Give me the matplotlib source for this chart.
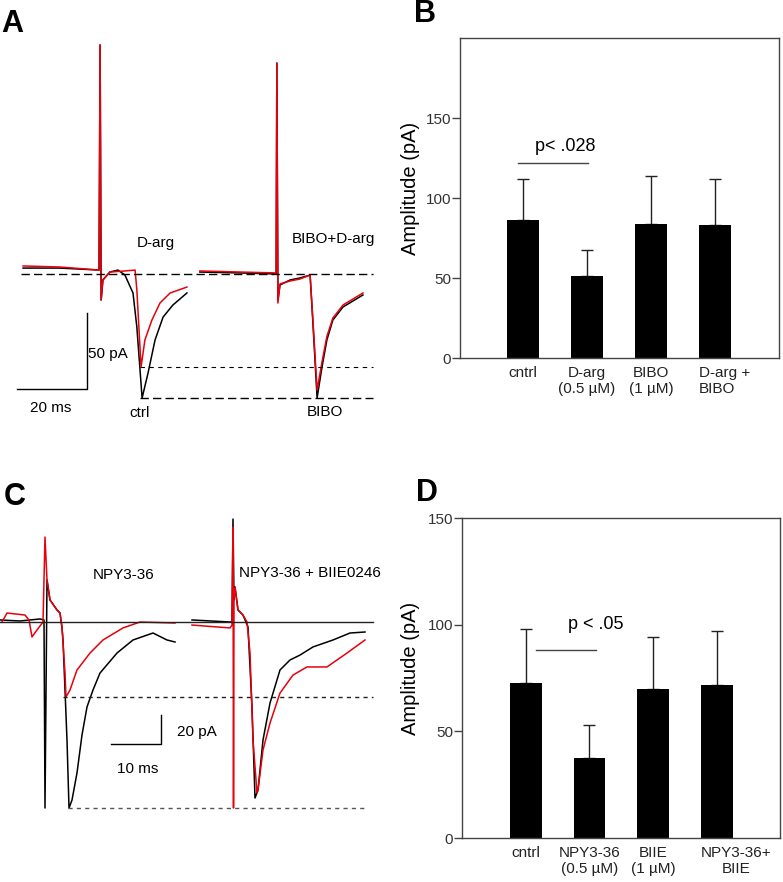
import numpy as np
import matplotlib.pyplot as plt
import matplotlib.transforms as mtransforms

plt.rcParams['font.family'] = ['Liberation Sans', 'DejaVu Sans']

# ---- panel A traces (time ms, current pA) ----
a_ctrl_t = [6.6, 17.1, 28.3, 28.6, 28.9, 29.4, 31.4, 33.7, 35.7, 38.0, 39.1, 40.6, 42.3, 44.3, 46.6, 49.4, 53.4]
a_ctrl_i = [3.9, 3.9, 2.6, 150.7, -17.1, -3.9, 1.3, 2.6, -0.7, -12.5, -34.9, -81.6, -65.1, -43.4, -28.3, -20.4, -12.5]
a_darg_t = [6.6, 17.1, 28.3, 28.6, 28.9, 29.4, 31.4, 35.7, 38.6, 39.1, 40.3, 41.4, 43.4, 45.7, 48.6, 53.4]
a_darg_i = [5.3, 4.6, 2.6, 150.7, -17.1, -3.9, 1.3, 2.0, 2.6, -10.5, -61.2, -43.4, -30.3, -19.1, -12.5, -8.6]
a_bibo_t = [57.1, 68.6, 78.9, 79.1, 79.4, 80.0, 82.9, 85.7, 88.6, 89.4, 90.6, 92.0, 93.4, 95.1, 98.0, 103.7]
a_bibo_i = [1.3, 0.7, 0.0, 138.8, -17.1, -7.2, -3.9, -2.6, -0.7, -32.2, -81.6, -61.2, -43.4, -30.3, -21.7, -13.8]
a_bibod_t = [57.1, 68.6, 78.9, 79.1, 79.4, 80.0, 82.9, 85.7, 88.6, 89.4, 90.6, 92.0, 93.4, 95.1, 98.0, 103.7]
a_bibod_i = [2.0, 1.3, 0.7, 138.8, -19.1, -6.5, -4.6, -3.3, -0.7, -30.0, -76.3, -57.9, -41.0, -29.0, -20.4, -12.5]

# ---- panel C traces (time ms, current pA) ----
c_ctrl_t = [0.0, 4.0, 8.0, 8.8, 9.0, 9.4, 10.0, 11.4, 12.0, 12.4, 12.6, 13.4, 13.8, 14.4, 15.4, 16.4, 17.4, 18.6,
            20.0, 23.4, 26.6, 30.6, 33.4, 35.0]
c_ctrl_i = [1.4, 0.7, 2.1, 1.4, -128.3, 29.0, 15.2, 8.3, 6.2, -4.1, -12.4, -81.4, -128.3, -122.8, -104.1, -77.9,
            -58.6, -46.9, -35.2, -21.4, -12.4, -7.6, -12.4, -13.8]
c_npy_t = [0.4, 1.4, 5.0, 5.8, 6.4, 7.4, 8.6, 9.0, 9.4, 10.0, 11.4, 12.0, 12.4, 13.0, 13.2, 14.0, 15.4, 18.0,
           20.6, 24.6, 28.0, 35.0]
c_npy_i = [0.0, 6.2, 4.8, 1.4, -10.3, -5.5, 0.0, 58.6, 29.0, 15.2, 8.3, 6.2, -3.4, -35.2, -51.7, -46.9, -33.1,
           -21.4, -12.4, -4.1, 0.0, -0.7]
c_biie_t = [38.4, 46.0, 46.4, 46.6, 46.8, 47.0, 47.6, 48.6, 49.6, 50.4, 51.0, 51.6, 52.6, 54.0, 56.0, 58.0, 60.0,
            62.6, 66.6, 70.0, 73.0]
c_biie_i = [1.4, 0.0, 0.0, 71.0, 15.2, 24.1, 8.3, 4.8, -3.4, -58.6, -121.4, -115.9, -81.4, -55.9, -33.1, -26.2,
            -22.8, -17.2, -12.4, -7.6, -6.9]
c_npybiie_t = [38.4, 46.0, 46.4, 46.6, 46.7, 46.8, 47.0, 47.6, 48.6, 49.4, 50.0, 50.6, 51.4, 51.6, 52.6, 54.0,
               56.0, 58.6, 61.4, 65.4, 69.4, 73.0]
c_npybiie_i = [-2.1, -4.1, -2.1, 65.5, -128.3, 15.2, 24.1, 8.3, 4.8, 0.0, -21.4, -81.4, -117.9, -115.9, -88.3,
               -69.7, -49.0, -36.6, -31.0, -31.0, -21.4, -12.4]

# ---- bar panels ----
b_labels = ['cntrl', 'D-arg\n(0.5 µM)', 'BIBO\n(1 µM)', 'D-arg +\nBIBO']
b_mean = [86, 51, 84, 83]
b_err = [26, 16.5, 30, 29]
d_labels = ['cntrl', 'NPY3-36\n(0.5 µM)', 'BIIE\n(1 µM)', 'NPY3-36+\nBIIE']
d_mean = [72.5, 37.5, 70, 71.5]
d_err = [25.5, 15.5, 24, 25.5]

W, H = 783, 882
fig = plt.figure(figsize=(7.83, 8.82), dpi=100)


def px_axes(x0, y0, x1, y1):
    return fig.add_axes([x0 / W, 1 - y1 / H, (x1 - x0) / W, (y1 - y0) / H])


RED = '#e8000b'
LW = 1.1

# ---------------- panel A ----------------
axA = px_axes(0, 0, 380, 420)
axA.axis('off')
axA.set_xlim(0, 380 / 3.5)
axA.set_ylim((274 - 420) / 1.52, 274 / 1.52)
axA.plot(a_ctrl_t, a_ctrl_i, color='black', lw=LW)
axA.plot(a_darg_t, a_darg_i, color=RED, lw=LW)
axA.plot(a_bibo_t, a_bibo_i, color='black', lw=LW)
axA.plot(a_bibod_t, a_bibod_i, color=RED, lw=LW)
axA.plot([6.0, 106.6], [0, 0], color='black', lw=1, ls=(0, (6, 3)))
axA.plot([40.0, 106.6], [min(a_darg_i)] * 2, color='black', lw=0.8, ls=(0, (4, 4)))
axA.plot([40.0, 106.6], [min(a_ctrl_i)] * 2, color='black', lw=1, ls=(0, (6, 3)))
# scale bar
axA.plot([4.9, 24.9, 24.9], [-75.7, -75.7, -25.7], color='black', lw=1)
axA.text(25.2, -52.6, '50 pA', fontsize=11, va='center', ha='left')
axA.text(14.6, -88.2, '20 ms', fontsize=11, va='center', ha='center')
axA.text(44.6, 20.4, 'D-arg', fontsize=11, va='center', ha='center')
axA.text(95.4, 23.0, 'BIBO+D-arg', fontsize=11, va='center', ha='center')
axA.text(40.0, -91.4, 'ctrl', fontsize=11, va='center', ha='center')
axA.text(92.9, -90.8, 'BIBO', fontsize=11, va='center', ha='center')

# ---------------- panel C ----------------
axC = px_axes(0, 470, 380, 860)
axC.axis('off')
axC.set_xlim(0, 380 / 5)
axC.set_ylim((622 - 860) / 1.45, (622 - 470) / 1.45)
axC.plot(c_ctrl_t, c_ctrl_i, color='black', lw=LW)
axC.plot(c_npy_t, c_npy_i, color=RED, lw=LW)
axC.plot(c_biie_t, c_biie_i, color='black', lw=LW)
axC.plot(c_npybiie_t, c_npybiie_i, color=RED, lw=LW)
axC.plot([0, 74.6], [0, 0], color='#222222', lw=1)
axC.plot([12.6, 74.6], [min(c_npy_i)] * 2, color='#222222', lw=1, ls=(0, (3, 3)))
axC.plot([13.6, 73.2], [min(c_ctrl_i)] * 2, color='#555555', lw=1, ls=(0, (3, 3)))
axC.plot([22.2, 32.2, 32.2], [-84.1, -84.1, -64.1], color='black', lw=1)
axC.text(35.4, -75.9, '20 pA', fontsize=11, va='center', ha='left')
axC.text(27.6, -101.4, '10 ms', fontsize=11, va='center', ha='center')
axC.text(24.8, 32.4, 'NPY3-36', fontsize=11, va='center', ha='center')
axC.text(62.0, 33.8, 'NPY3-36 + BIIE0246', fontsize=11, va='center', ha='center')


# ---------------- bar panels ----------------
def bar_panel(ax, labels, means, errs, ymax, xlim, sig_x, sig_y, sig_txt, txt_xy, last_multi, lab_x):
    pos = np.arange(len(means))
    ax.bar(pos, means, width=0.5, color='black', zorder=2)
    ax.errorbar(pos, means, yerr=[np.zeros(len(errs)), errs], fmt='none', ecolor='#222222',
                elinewidth=1, capsize=4, capthick=1, zorder=1)
    ax.set_xlim(*xlim)
    ax.set_ylim(0, ymax)
    ax.set_yticks([0, 50, 100, 150])
    ax.set_xticks([])
    ax.tick_params(axis='y', direction='out', length=5.5, width=1, pad=1,
                   labelsize=11, labelcolor='#333333', color='#444444')
    for s in ax.spines.values():
        s.set_color('#444444')
        s.set_linewidth(1)
    ax.set_ylabel('Amplitude (pA)', fontsize=14.5)
    ax.yaxis.set_label_coords(lab_x, 0.53)
    trans = mtransforms.blended_transform_factory(ax.transData, ax.transAxes)
    for i, lab in enumerate(labels):
        if i == len(labels) - 1:
            ax.text(i - 0.25, -0.024, lab, transform=trans, ha='left', va='top', fontsize=11,
                    multialignment=last_multi, linespacing=1.25, color='#222222')
        else:
            ax.text(i, -0.024, lab, transform=trans, ha='center', va='top', fontsize=11,
                    multialignment='center', linespacing=1.25, color='#222222')
    ax.plot(sig_x, [sig_y, sig_y], color='#444444', lw=1)
    ax.text(txt_xy[0], txt_xy[1], sig_txt, fontsize=13, ha='center', va='center')


axB = px_axes(460, 38, 779, 358)
bar_panel(axB, b_labels, b_mean, b_err, 200, (-0.98, 4.0), [-0.08, 1.02], 122, 'p< .028',
          (0.66, 132), 'left', -0.125)

axD = px_axes(462, 518, 780, 838)
bar_panel(axD, d_labels, d_mean, d_err, 150, (-1.0, 3.99), [0.16, 1.10], 88, 'p < .05',
          (1.10, 100), 'center', -0.132)

# panel letters
for letter, (x, y) in {'A': (12, 24), 'B': (425, 14), 'C': (15, 497), 'D': (427, 493)}.items():
    fig.text(x / W, 1 - y / H, letter, fontsize=22, fontweight='bold', ha='center', va='center')

fig.savefig('out.png', dpi=100)
